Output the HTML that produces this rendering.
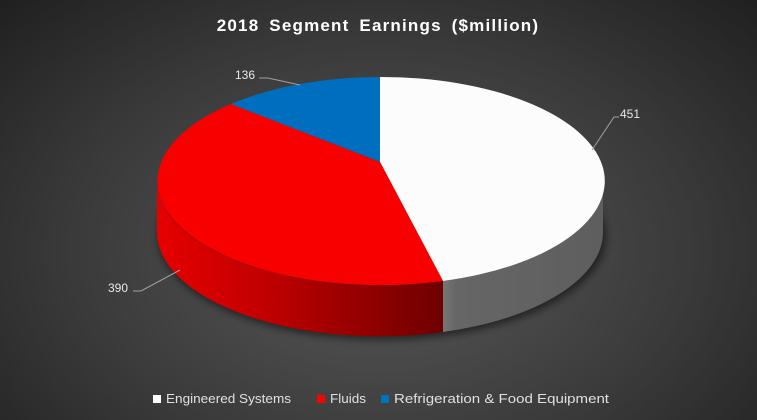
<!DOCTYPE html>
<html><head><style>
html,body{margin:0;padding:0}
body{width:757px;height:420px;overflow:hidden;background:radial-gradient(ellipse 560px 380px at 380px 250px,#595959 0%,#3a3a3a 55%,#1c1c1c 100%);font-family:"Liberation Sans",sans-serif}
</style></head><body>
<svg width="757" height="420" xmlns="http://www.w3.org/2000/svg" style="position:absolute;left:0;top:0">
<defs>
<linearGradient id="rs" x1="157" y1="0" x2="443" y2="0" gradientUnits="userSpaceOnUse">
<stop offset="0" stop-color="#e60000"/><stop offset="0.35" stop-color="#c40000"/><stop offset="1" stop-color="#6e0000"/></linearGradient>
<linearGradient id="gs" x1="443" y1="0" x2="603" y2="0" gradientUnits="userSpaceOnUse">
<stop offset="0" stop-color="#767676"/><stop offset="0.08" stop-color="#666"/><stop offset="1" stop-color="#5e5e5e"/></linearGradient>
<filter id="sh" x="-20%" y="-20%" width="140%" height="140%"><feGaussianBlur stdDeviation="4"/></filter>
</defs>
<text x="378" y="31" text-anchor="middle" fill="#fff" font-size="17" font-weight="bold" letter-spacing="1.2" word-spacing="4">2018 Segment Earnings ($million)</text>
<ellipse cx="382" cy="236" rx="224" ry="104" fill="#000" opacity="0.5" filter="url(#sh)"/>
<path d="M157,181 A223,104 0 0 0 443,281 L443,332 A223,104 0 0 1 157,232 Z" fill="url(#rs)"/>
<path d="M443,281 A223,104 0 0 0 603,181 L603,232 A223,104 0 0 1 443,332 Z" fill="url(#gs)"/>
<path d="M380,162 L380,77 A223,104 0 0 1 443,281 Z" fill="#fcfcfc"/>
<path d="M380,162 L443,281 A223,104 0 0 1 231,104 Z" fill="#f80000"/>
<path d="M380,162 L231,104 A223,104 0 0 1 380,77 Z" fill="#006ebe"/>
<g stroke="#a0a0a0" stroke-width="1" fill="none">
<polyline points="259,78 268,78 300,85"/>
<polyline points="619,117 614,117 592,150"/>
<polyline points="133,291 141,291 180,270"/>
</g>
<g fill="#e8e8e8" font-size="12">
<text x="235" y="79">136</text>
<text x="620" y="118">451</text>
<text x="108" y="292">390</text>
</g>
<g font-size="13" fill="#e0e0e0">
<rect x="153" y="395" width="8" height="8" fill="#fff"/><text x="166" y="403" textLength="125" lengthAdjust="spacingAndGlyphs">Engineered Systems</text>
<rect x="317" y="395" width="8" height="8" fill="#f00"/><text x="330" y="403" textLength="36" lengthAdjust="spacingAndGlyphs">Fluids</text>
<rect x="381" y="395" width="8" height="8" fill="#0070c0"/><text x="394" y="403" textLength="215" lengthAdjust="spacingAndGlyphs">Refrigeration &amp; Food Equipment</text>
</g>
</svg>
</body></html>
